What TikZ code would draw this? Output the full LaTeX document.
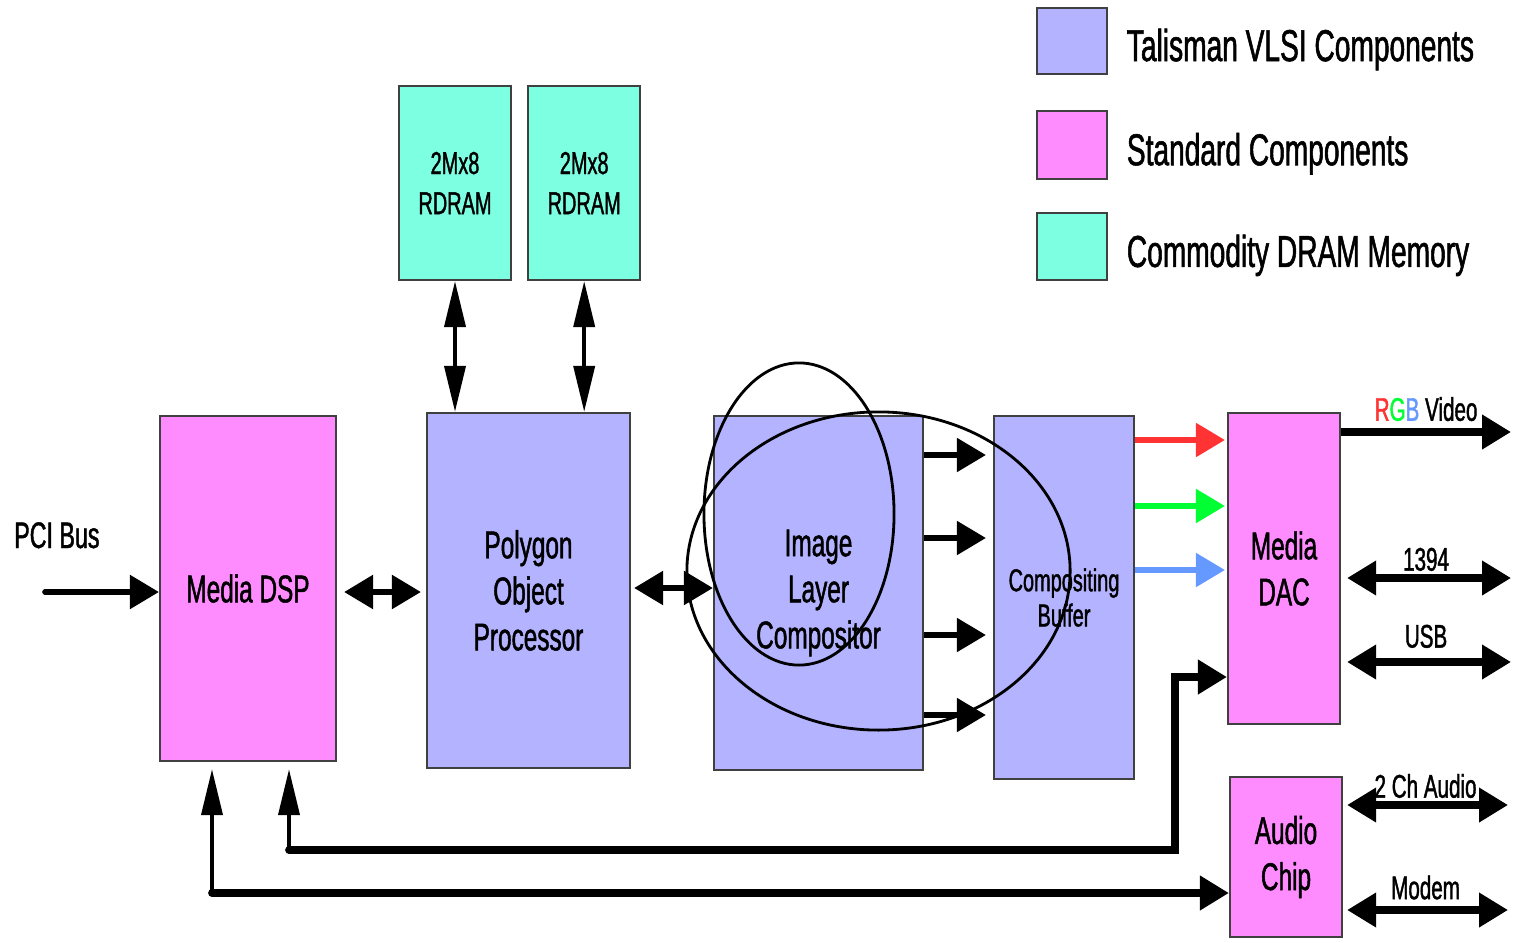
\documentclass[tikz,border=0pt]{standalone}
\usepackage{fontspec}
\setmainfont{Liberation Sans}[FakeStretch=0.63, FakeBold=1.2]
\usetikzlibrary{positioning,arrows.meta}

\definecolor{vlsiblue}{RGB}{179,179,255}
\definecolor{stdpink}{RGB}{255,140,255}
\definecolor{dramteal}{RGB}{125,255,225}
\definecolor{rgbR}{RGB}{255,51,51}
\definecolor{rgbG}{RGB}{0,255,51}
\definecolor{rgbB}{RGB}{102,153,255}

\tikzset{
	tipA/.tip={Triangle[length=0.29cm,width=0.33cm]},
	tipM/.tip={Triangle[length=0.46cm,width=0.21cm]},
	block/.style={draw=black!75, line width=0.6pt, inner sep=0pt, align=center},
	talisman/.style={block, fill=vlsiblue},
	standard/.style={block, fill=stdpink},
	memory/.style={block, fill=dramteal, minimum width=1.12cm, minimum height=1.94cm,
		font=\fontsize{9}{11.4}\selectfont},
	bigtxt/.style={font=\fontsize{11}{13.1}\selectfont},
	lbl/.style={font=\fontsize{9.3}{11}\selectfont, inner sep=1pt},
	legtxt/.style={font=\fontsize{12.7}{15}\selectfont, inner sep=0pt},
	flow/.style={line width=1.5pt, -tipA},
	twoway/.style={line width=1.6pt, tipA-tipA},
	memlink/.style={line width=1.1pt, tipM-tipM},
	upin/.style={line width=1.1pt, -tipM, shorten >=0.07cm},
	busline/.style={line width=2.2pt, line cap=round},
	port/.style={line width=2pt, tipA-tipA},
	ring/.style={line width=0.8pt},
}

\begin{document}
\begin{tikzpicture}[x=0.01cm, y=-0.01cm]
	\useasboundingbox (0,0) rectangle (1513,943);
	
	% legend
	\node[talisman, minimum width=0.7cm, minimum height=0.66cm, anchor=north west] (leg1) at (1036,7) {};
	\node[standard, minimum width=0.7cm, minimum height=0.68cm, below=0.35cm of leg1] (leg2) {};
	\node[memory, minimum width=0.7cm, minimum height=0.67cm, below=0.32cm of leg2] (leg3) {};
	\node[legtxt, anchor=base west] (leg1txt) at ([shift={(18,20)}]leg1.east) {Talisman VLSI Components};
	\node[legtxt, anchor=base west] (leg2txt) at ([shift={(18,20)}]leg2.east) {Standard Components};
	\node[legtxt, anchor=base west] (leg3txt) at ([shift={(18,20)}]leg3.east) {Commodity DRAM Memory};
	
	% blocks
	\node[memory] (dram1) at (455,183) {2Mx8\\RDRAM};
	\node[memory, right=0.15cm of dram1] (dram2) {2Mx8\\RDRAM};
	\node[standard, bigtxt, minimum width=1.76cm, minimum height=3.45cm] (dsp) at (248,588.5) {Media DSP};
	\node[talisman, bigtxt, minimum width=2.03cm, minimum height=3.55cm] (pop) at (528.5,590.5) {Polygon\\Object\\Processor};
	\node[talisman, bigtxt, minimum width=2.09cm, minimum height=3.54cm] (ilc) at (818.5,593) {Image\\Layer\\Compositor};
	\node[talisman, font=\fontsize{9}{10}\selectfont, minimum width=1.40cm, minimum height=3.63cm] (cbuf) at (1064,597.5) {Compositing\\Buffer};
	\node[standard, bigtxt, minimum width=1.12cm, minimum height=3.11cm] (dac) at (1284,568.5) {Media\\DAC};
	\node[standard, bigtxt, minimum width=1.12cm, minimum height=1.60cm] (audio) at (1286,857) {Audio\\Chip};
	
	% memory ports
	\draw[memlink] (dram1.south) -- (dram1.south |- pop.north);
	\draw[memlink] (dram2.south) -- (dram2.south |- pop.north);
	
	% pci bus in
	\coordinate (pci) at (45,592);
	\node[lbl, font=\fontsize{10.5}{12}\selectfont, anchor=base west] (pcilbl) at (10,548) {PCI Bus};
	\draw[flow, line width=1.6pt, line cap=round] (pci) -- (pci -| dsp.west);
	
	\draw[twoway, shorten <=0.07cm, shorten >=0.05cm] (dsp.east |- 0,592) -- (pop.west |- 0,592);
	\draw[twoway, shorten <=0.03cm] (pop.east |- 0,588) -- (ilc.west |- 0,588);
	
	% layers into buffer
	\foreach \y in {455,538,635,715}
		\draw[flow, shorten >=0.07cm] (ilc.east |- 0,\y) -- (cbuf.west |- 0,\y);
	
	% rgb
	\foreach \y/\c in {440/rgbR,506/rgbG,570/rgbB}
		\draw[flow, \c, shorten >=0.02cm] (cbuf.east |- 0,\y) -- (dac.west |- 0,\y);
	
	% outputs
	\coordinate (vidout) at (1511,432);
	\coordinate (out1394) at (1511,578);
	\coordinate (outusb) at (1511,662);
	\coordinate (outaud) at (1508,805);
	\coordinate (outmodem) at (1508,910);
	\draw[flow, line width=2.2pt] (dac.east |- vidout) -- (vidout)
		node[midway, above, lbl, inner sep=2pt] {\textcolor{rgbR}{R}\textcolor{rgbG}{G}\textcolor{rgbB}{B} Video};
	\draw[port, shorten <=0.06cm] (dac.east |- out1394) -- (out1394) node[midway, above, lbl] {1394};
	\draw[port, shorten <=0.06cm] (dac.east |- outusb) -- (outusb) node[midway, above, lbl, inner sep=3pt] {USB};
	\draw[port, shorten <=0.04cm] (audio.east |- outaud) -- (outaud) node[midway, above, lbl, inner sep=1pt] {2 Ch Audio};
	\draw[port, shorten <=0.04cm] (audio.east |- outmodem) -- (outmodem) node[midway, above, lbl, inner sep=2pt] {Modem};
	
	% buses back to dsp
	\coordinate (busA) at (289,850);
	\coordinate (busAturn) at (1175,850);
	\coordinate (busB) at (212,893);
	\draw[upin] (busA) -- (busA |- dsp.south);
	\draw[upin] (busB) -- (busB |- dsp.south);
	\draw[busline, -tipA] (busA) -- (busAturn) -- (busAturn |- 0,677) -- (dac.west |- 0,677);
	\draw[busline, -tipA] (busB) -- (busB -| audio.west);
	
	% marks over the compositor
	\draw[ring] (799,514) ellipse [x radius=0.95cm, y radius=1.51cm];
	\draw[ring] (878.5,571) ellipse [x radius=1.915cm, y radius=1.59cm];
\end{tikzpicture}
\end{document}
